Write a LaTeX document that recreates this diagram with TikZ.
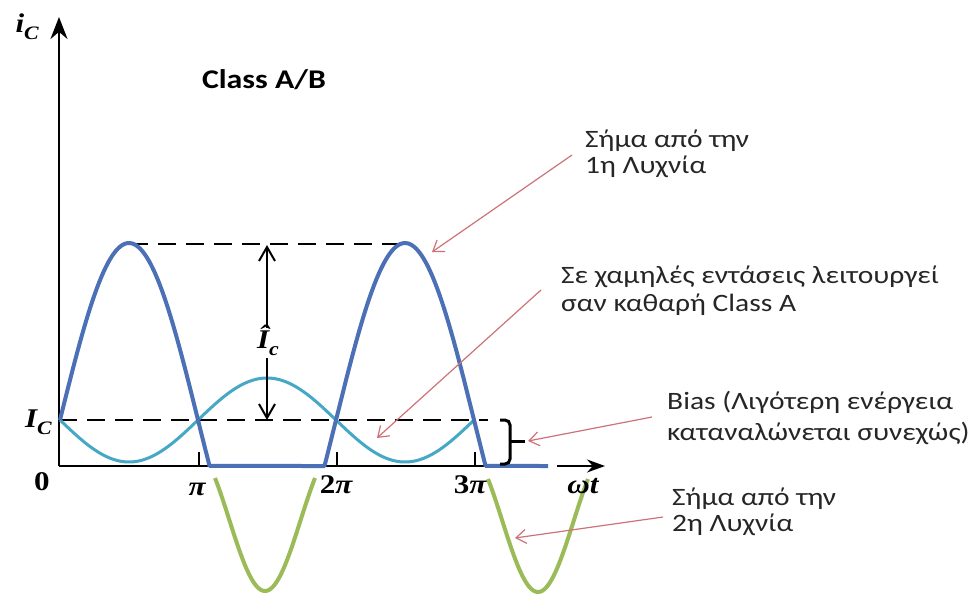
\RequirePackage{fix-cm}
\documentclass[tikz,border=0pt]{standalone}
\usepackage[no-math]{fontspec}
\setmainfont{Carlito}[FakeStretch=1.18]
\newfontfamily\tms{Liberation Serif}[FakeStretch=1.15]
\usetikzlibrary{arrows.meta}
\definecolor{cblue}{RGB}{76,112,182}
\definecolor{ccyan}{RGB}{70,168,196}
\definecolor{cgreen}{RGB}{155,187,89}
\definecolor{cred}{RGB}{205,115,120}
\newcommand\sbs[1]{\raisebox{-0.28em}{\fontsize{19}{19}\selectfont #1}}
\tikzset{
  axisline/.style={line width=2.4pt, black},
  bluecurve/.style={line width=4pt, cblue, line join=round},
  cyancurve/.style={line width=3pt, ccyan},
  greencurve/.style={line width=4pt, cgreen},
  dashline/.style={line width=2pt, black, dash pattern=on 18pt off 10pt},
  tickline/.style={line width=2pt, black},
  notetext/.style={font=\fontsize{25}{28}\selectfont, anchor=base west, inner sep=0pt, text=black!85},
  callout/.style={draw=cred, line width=1.2pt, -{Straight Barb[length=10pt,width=14pt]}},
  mathlbl/.style={font=\tms\bfseries\itshape\fontsize{27}{30}\selectfont, inner sep=0pt},
  dimarrow/.style={line width=2pt, black, -{Straight Barb[length=14pt,width=16pt]}},
}
\begin{document}
\begin{tikzpicture}[x=1pt,y=-1pt]
\fill[white] (0,0) rectangle (973,598);
\useasboundingbox (0,0) rectangle (973,598);

% axes
\coordinate (O) at (59,466);
\coordinate (ytop) at (59,17);
\coordinate (xa) at (548,466);
\coordinate (xb) at (557,466);
\coordinate (xtip) at (605,466);
\draw[axisline, -{Stealth[length=22pt,width=17pt]}] (O) -- (ytop);
\draw[axisline] (O) -- (xa);
\draw[axisline, -{Stealth[length=18pt,width=13pt]}] (xb) -- (xtip);

% ticks
\foreach \tx/\nm in {199/tp1,337/tp2,475/tp3}{
  \coordinate (\nm a) at (\tx,466);
  \coordinate (\nm b) at (\tx,452);
  \draw[tickline] (\nm a) -- (\nm b);
}

% dashed reference lines
\coordinate (icl) at (59,420);
\coordinate (icr) at (488,420);
\coordinate (pkl) at (130,244);
\coordinate (pkr) at (405,244);
\draw[dashline] (icl) -- (icr);
\draw[dashline] (pkl) -- (pkr);

% cyan curve (small signal)
\draw[cyancurve] plot[domain=0:9.4248, samples=160] ({60+43.93*\x},{420+42*sin(\x r)});

% blue curve (1st tube)
\draw[bluecurve] plot[domain=0:3.4046, samples=70] ({60+43.93*\x},{420-177*sin(\x r)})
  -- plot[domain=6.0202:9.6878, samples=80] ({60+43.93*\x},{420-177*sin(\x r)})
  -- (548,466);

% green curves (2nd tube)
\draw[greencurve] plot[domain=-2.2:2.2, samples=60] ({265+50*\x/2.2},{478+113*(cos(\x r)+0.5885)/1.5885});
\draw[greencurve] plot[domain=-2.2:2.2, samples=60] ({538+50*\x/2.2},{479+113*(cos(\x r)+0.5885)/1.5885});

% amplitude arrows
\node[mathlbl, anchor=base] (ihat) at (268,348) {Î\sbs{c}};
\coordinate (dA1) at (267,328);
\coordinate (dA2) at (267,245);
\coordinate (dB1) at (267,358);
\coordinate (dB2) at (267,420);
\draw[dimarrow] (dA1) -- (dA2);
\draw[dimarrow] (dB1) -- (dB2);

% bias bracket
\draw[line width=3pt, black, rounded corners=5pt] (500,420) -- (510,420) -- (510,464) -- (500,464);
\coordinate (nubA) at (510,441);
\coordinate (nubB) at (525,441);
\draw[line width=3pt, black] (nubA) -- (nubB);

% axis labels
\node[mathlbl, anchor=base east] (lic) at (39,32) {i\sbs{C}};
\node[mathlbl, anchor=base east] (lIC) at (52,427) {I\sbs{C}};
\node[mathlbl, anchor=base, font=\tms\bfseries\fontsize{27}{30}\selectfont] (lzero) at (42,490) {0};
\node[mathlbl, anchor=base] (lpi) at (197,495) {π};
\node[mathlbl, anchor=base] (l2pi) at (336,493) {\upshape 2\itshape π};
\node[mathlbl, anchor=base] (l3pi) at (470,493) {\upshape 3\itshape π};
\node[mathlbl, anchor=base] (lwt) at (583,493) {ωt};

% title
\node[font=\bfseries\fontsize{27}{30}\selectfont, anchor=base, inner sep=0pt] (title) at (264,88) {Class A/B};

% notes
\node[notetext] (n1a) at (585,147) {Σήμα από την};
\node[notetext] (n1b) at (585,173) {1η Λυχνία};
\node[notetext] (n2a) at (561,283) {Σε χαμηλές εντάσεις λειτουργεί};
\node[notetext] (n2b) at (561,311) {σαν καθαρή Class A};
\node[notetext] (n3a) at (667,409) {Bias (Λιγότερη ενέργεια};
\node[notetext] (n3b) at (667,440) {καταναλώνεται συνεχώς)};
\node[notetext] (n4a) at (672,505) {Σήμα από την};
\node[notetext] (n4b) at (672,531) {2η Λυχνία};

% callouts
\coordinate (c1s) at (572,155);
\coordinate (c1e) at (432,252);
\coordinate (c2s) at (541,290);
\coordinate (c2e) at (377,438);
\coordinate (c3s) at (652,417);
\coordinate (c3e) at (528,441);
\coordinate (c4s) at (663,517);
\coordinate (c4e) at (515,538);
\draw[callout] (c1s) -- (c1e);
\draw[callout] (c2s) -- (c2e);
\draw[callout] (c3s) -- (c3e);
\draw[callout] (c4s) -- (c4e);
\end{tikzpicture}
\end{document}
